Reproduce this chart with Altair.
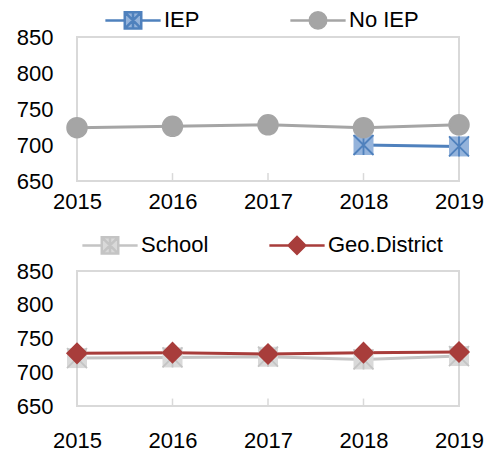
import altair as alt
import pandas as pd

years = ["2015", "2016", "2017", "2018", "2019"]
iep = [None, None, None, 700, 698]
no_iep = [724, 726, 728, 724, 728]
school = [721, 722, 723, 719, 724]
geo = [728, 729, 727, 729, 730]

top_names = ["IEP", "No IEP"]
bot_names = ["School", "Geo.District"]


def to_long(names, values):
    rows = []
    for name, vals in zip(names, values):
        for yr, v in zip(years, vals):
            if v is not None:
                rows.append({"year": yr, "value": v, "series": name})
    return pd.DataFrame(rows)


top_df = to_long(top_names, [iep, no_iep])
bot_df = to_long(bot_names, [school, geo])
ticks_df = pd.DataFrame({"year": years})

FONT = "Liberation Sans"
CROSS = "M-1,-1L1,1 M1,-1L-1,1 M0,-1V1"
ASTER = "M-1,-1H1V1H-1Z " + CROSS
SEG = "M-3.35,0H-1 M1,0H3.35 "
LEG_ASTER = SEG + ASTER
LEG_CIRCLE = SEG + "M-1,0A1,1 0 1,0 1,0A1,1 0 1,0 -1,0Z"
LEG_DIAMOND = SEG + "M-1,0L0,-1L1,0L0,1Z"


def make_legend(lx, ly, colpad):
    return alt.Legend(
        title=None,
        orient="none",
        direction="horizontal",
        legendX=lx,
        legendY=ly,
        columnPadding=colpad,
        labelFont=FONT,
        labelFontSize=22,
        labelColor="black",
        labelOffset=20,
        symbolSize=272,
        symbolStrokeWidth=2.5,
        padding=0,
    )


def panel(df, names, marker_shapes, legend_shapes, fills, strokes, height, legend, xpad):
    xaxis = alt.Axis(title=None, labelAngle=0, labelPadding=xpad)
    yaxis = alt.Axis(title=None, values=[650, 700, 750, 800, 850],
                     labelPadding=24, labelOverlap=False)
    xscale = alt.Scale(type="point", padding=0)
    yscale = alt.Scale(domain=[650, 850], nice=False, zero=False)
    x = alt.X("year:O", scale=xscale, axis=xaxis)
    y = alt.Y("value:Q", scale=yscale, axis=yaxis)
    fill = alt.Fill("series:N", scale=alt.Scale(domain=names, range=fills), legend=legend)
    stroke = alt.Stroke("series:N", scale=alt.Scale(domain=names, range=strokes), legend=legend)
    ticks = alt.Chart(ticks_df).mark_rule(color="#D9D9D9", strokeWidth=1.5).encode(
        x=x,
        y=alt.datum(650, scale=yscale, axis=yaxis),
        y2=alt.datum(661),
    )
    lines = alt.Chart(df).mark_line(strokeWidth=3).encode(
        x=x, y=y, stroke=stroke, detail="series:N",
    )
    layers = [ticks, lines]
    for name, shp in zip(names, marker_shapes):
        base = alt.Chart(df).transform_filter(alt.datum.series == name)
        if shp == "aster":
            layers.append(
                base.mark_point(opacity=1, size=400, strokeOpacity=0, shape="square")
                .encode(x=x, y=y, fill=fill, stroke=stroke)
            )
            layers.append(
                base.mark_point(opacity=1, size=400, strokeWidth=1.8, shape=CROSS)
                .encode(x=x, y=y, stroke=stroke)
            )
        else:
            layers.append(
                base.mark_point(opacity=1, size=400, strokeWidth=1.5, shape=shp)
                .encode(x=x, y=y, fill=fill, stroke=stroke)
            )
    # legend-only layer (no rows drawn); legend entries come from the scale domains
    layers.append(
        alt.Chart(df).transform_filter("false")
        .mark_point(opacity=1)
        .encode(
            x=x, y=y, fill=fill, stroke=stroke,
            shape=alt.Shape("series:N", scale=alt.Scale(domain=names, range=legend_shapes),
                            legend=legend),
        )
    )
    return alt.layer(*layers).properties(width=382, height=height)


top = panel(
    top_df, top_names,
    marker_shapes=["aster", "circle"],
    legend_shapes=[LEG_ASTER, LEG_CIRCLE],
    fills=["#94B3DB", "#A5A5A5"],
    strokes=["#4F81BD", "#A5A5A5"],
    height=144,
    legend=make_legend(45, -28, 85),
    xpad=10,
)
bottom = panel(
    bot_df, bot_names,
    marker_shapes=["aster", "diamond"],
    legend_shapes=[LEG_ASTER, LEG_DIAMOND],
    fills=["#D9D9D9", "#A83D3B"],
    strokes=["#C4C4C4", "#A83D3B"],
    height=135,
    legend=make_legend(22, -37, 55),
    xpad=24,
)

chart = alt.vconcat(top, bottom, spacing=20).resolve_scale(
    stroke="independent", fill="independent", shape="independent"
).resolve_legend(
    stroke="independent", fill="independent", shape="independent"
).properties(
    padding={"left": 7, "top": 0, "right": 5, "bottom": 0}
).configure_view(
    stroke="#D9D9D9", strokeWidth=2
).configure_axis(
    labelFont=FONT, labelFontSize=22, labelColor="black",
    domain=False, ticks=False, grid=False,
).configure_axisY(
    labelOverlap=False
)

chart.save("out.html", embed_options={"renderer": "svg", "actions": False})
